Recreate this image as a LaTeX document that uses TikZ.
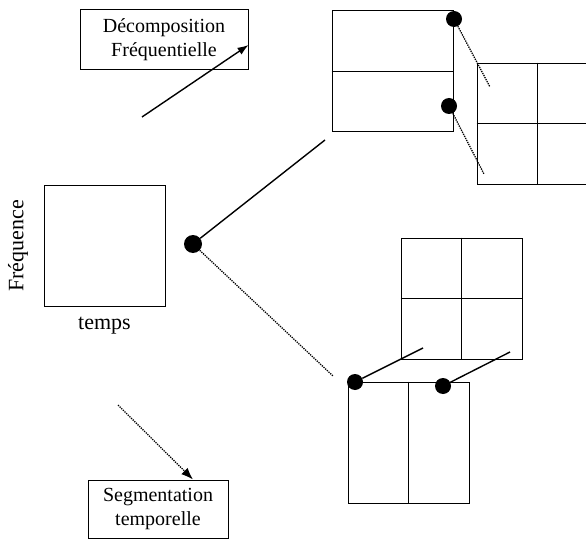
\documentclass[tikz,border=0pt]{standalone}
\usepackage{fontspec}
\setmainfont{Liberation Serif}
\usetikzlibrary{arrows.meta}

\begin{document}
\begin{tikzpicture}[x=1pt, y=-1pt, font=\fontsize{20}{24}\selectfont,
  cadre/.style={draw, line width=0.8pt, inner sep=0pt, minimum size=121pt},
  etiquette/.style={draw, line width=1pt, align=center, inner sep=0pt},
  point/.style={circle, fill, inner sep=0pt, minimum size=16pt},
  trait/.style={line width=1.4pt},
  pointille/.style={line width=1.3pt, densely dotted}]
  \useasboundingbox (0,0) rectangle (586,540);
  \node[etiquette, minimum width=168pt, minimum height=60pt] (decomp) at (164,40) {Décomposition\\Fréquentielle};
  \node[etiquette, minimum width=140pt, minimum height=58pt] (segm) at (158,509) {Segmentation\\temporelle};
  \coordinate (fa) at (142,117);
  \coordinate (fs) at (118,405);
  \draw[trait, -{Latex[length=11pt, width=8pt]}] (fa) -- ([yshift=-5pt]decomp.east);
  \draw[pointille, -{Latex[length=12pt, width=9pt]}] (fs) -- ([xshift=35pt]segm.north);
  \node[cadre] (plan) at (104.5,246) {};
  \node[rotate=90, anchor=south, font=\fontsize{22}{26}\selectfont] at ([xshift=-12pt]plan.west) {Fréquence};
  \node[anchor=north, font=\fontsize{22}{26}\selectfont] at ([yshift=-7pt]plan.south) {temps};
  \node[cadre] (freqA) at (392.5,71) {};
  \draw[line width=0.8pt] (freqA.west) -- (freqA.east);
  \node[cadre] (freqB) at (537.5,123.5) {};
  \draw[line width=0.8pt] (freqB.west) -- (freqB.east) (freqB.north) -- (freqB.south);
  \node[cadre] (tempsC) at (461.5,298.5) {};
  \draw[line width=0.8pt] (tempsC.west) -- (tempsC.east) (tempsC.north) -- (tempsC.south);
  \node[cadre] (tempsD) at (408.5,442.5) {};
  \draw[line width=0.8pt] (tempsD.north) -- (tempsD.south);
  \node[point, minimum size=18pt] (racine) at (193,244) {};
  \node[point] (pa) at (454,19) {};
  \node[point] (pb) at (449,106) {};
  \node[point] (pc) at (355,382) {};
  \node[point] (pd) at (443,386) {};
  \coordinate (va) at (325,140);
  \coordinate (vb) at (333,376);
  \coordinate (ea) at (490,87);
  \coordinate (eb) at (484,174);
  \coordinate (ec) at (423,348);
  \coordinate (ed) at (510,352);
  \draw[trait] (racine) -- (va);
  \draw[pointille] (racine) -- (vb);
  \draw[pointille] (pa) -- (ea);
  \draw[pointille] (pb) -- (eb);
  \draw[trait] (pc) -- (ec);
  \draw[trait] (pd) -- (ed);
\end{tikzpicture}
\end{document}
